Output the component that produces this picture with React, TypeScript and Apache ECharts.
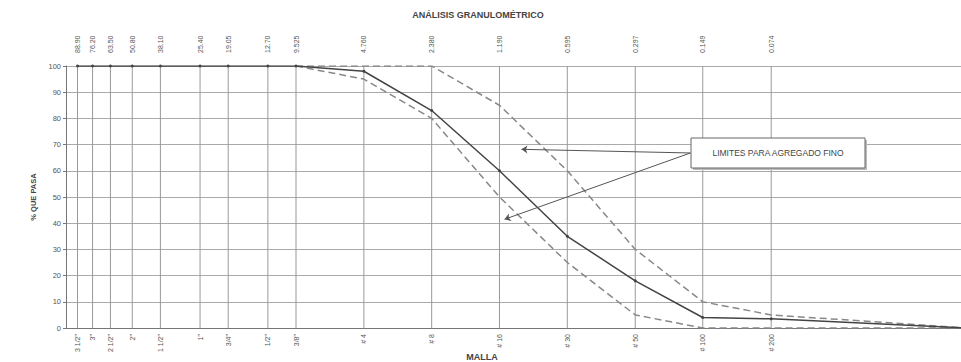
import React, { useEffect, useRef } from "react";
import * as echarts from "echarts";

// Sieve (malla) designations and openings in mm
const sieveNames = ['3 1/2"', '3"', '2 1/2"', '2"', '1 1/2"', '1"', '3/4"', '1/2"', '3/8"', '# 4', '# 8', '# 16', '# 30', '# 50', '# 100', '# 200'];
const openingLabels = ["88.90", "76.20", "63.50", "50.80", "38.10", "25.40", "19.05", "12.70", "9.525", "4.760", "2.380", "1.190", "0.595", "0.297", "0.149", "0.074"];
const openings = [88.9, 76.2, 63.5, 50.8, 38.1, 25.4, 19.05, 12.7, 9.525, 4.76, 2.38, 1.19, 0.595, 0.297, 0.149, 0.074];
const panOpening = 0.01;

// % que pasa (sample)
const passing = [100, 100, 100, 100, 100, 100, 100, 100, 100, 98, 83, 60, 35, 18, 4, 3.5, 0];
// Limits for fine aggregate (from 3/8" on)
const limitOpenings = [9.525, 4.76, 2.38, 1.19, 0.595, 0.297, 0.149, 0.074, 0.01];
const upperLimit = [100, 100, 100, 85, 60, 30, 10, 5, 0];
const lowerLimit = [100, 95, 80, 50, 25, 5, 0, 0, 0];

// annotation arrows [from (mm, %), to (mm, %)]
const annotationArrows = [
  [[0.169, 66.8], [0.951, 68.2]],
  [[0.169, 66.8], [1.13, 41.5]],
];

const FONT = "Liberation Sans, Arial, sans-serif";

export default function App() {
  const ref = useRef<HTMLDivElement>(null);
  useEffect(() => {
    if (!ref.current) return;
    const chart = echarts.init(ref.current, null, { renderer: "svg" });
    const samplePts = passing.map((v, i) => [i < openings.length ? openings[i] : panOpening, v]);
    const upperPts = limitOpenings.map((o, i) => [o, upperLimit[i]]);
    const lowerPts = limitOpenings.map((o, i) => [o, lowerLimit[i]]);
    const option: any = {
      animation: false,
      backgroundColor: "#fff",
      grid: { left: 66, top: 66, right: 13, bottom: 34, containLabel: false },
      xAxis: {
        type: "log",
        logBase: 10,
        min: 0.01,
        max: 100,
        inverse: true,
        axisLabel: { show: false },
        axisTick: { show: false },
        splitLine: { show: false },
        axisLine: { show: true, lineStyle: { color: "#777", width: 1 } },
      },
      yAxis: {
        type: "value",
        min: 0,
        max: 100,
        interval: 10,
        name: "% QUE PASA",
        nameLocation: "middle",
        nameGap: 29,
        nameTextStyle: { fontSize: 7.5, fontWeight: "bold", color: "#444", fontFamily: FONT },
        axisLine: { show: true, lineStyle: { color: "#777" } },
        axisTick: { show: true, length: 3, lineStyle: { color: "#777" } },
        axisLabel: { fontSize: 7.5, color: "#555", margin: 5, fontFamily: FONT },
        splitLine: { show: true, lineStyle: { color: "#aaa", width: 1 } },
      },
      series: [
        {
          type: "custom",
          z: 1,
          silent: true,
          clip: false,
          data: openings.map((o, i) => [o, i]),
          renderItem: (params: any, api: any) => {
            const x = api.value(0);
            const idx = api.value(1);
            const top = api.coord([x, 100]);
            const bot = api.coord([x, 0]);
            return {
              type: "group",
              children: [
                {
                  type: "line",
                  shape: { x1: top[0], y1: top[1], x2: bot[0], y2: bot[1] },
                  style: { stroke: "#999", lineWidth: 1 },
                },
                {
                  type: "text",
                  x: top[0],
                  y: top[1] - 13,
                  rotation: Math.PI / 2,
                  style: {
                    text: openingLabels[idx],
                    align: "left",
                    verticalAlign: "middle",
                    fontSize: 7,
                    fontFamily: FONT,
                    fill: "#555",
                  },
                },
                {
                  type: "text",
                  x: bot[0],
                  y: bot[1] + 6,
                  rotation: Math.PI / 2,
                  style: {
                    text: sieveNames[idx],
                    align: "right",
                    verticalAlign: "middle",
                    fontSize: 7,
                    fontFamily: FONT,
                    fill: "#555",
                  },
                },
              ],
            };
          },
        },
        {
          name: "Límite superior",
          type: "line",
          z: 3,
          data: upperPts,
          symbol: "none",
          lineStyle: { color: "#888", width: 1.5, type: [7, 4] },
          markLine: {
            silent: true,
            symbol: ["none", "arrow"],
            symbolSize: 6,
            label: { show: false },
            lineStyle: { color: "#555", width: 1, type: "solid" },
            data: annotationArrows.map((a) => [{ coord: a[0] }, { coord: a[1] }]),
          },
        },
        {
          name: "Límite inferior",
          type: "line",
          z: 3,
          data: lowerPts,
          symbol: "none",
          lineStyle: { color: "#888", width: 1.5, type: [7, 4] },
        },
        {
          name: "Muestra",
          type: "line",
          z: 4,
          data: samplePts,
          symbol: "circle",
          symbolSize: 3,
          itemStyle: { color: "#444" },
          lineStyle: { color: "#444", width: 1.5 },
        },
      ],
      graphic: [
        {
          type: "text",
          x: 478,
          y: 15,
          z: 100,
          style: {
            text: "ANÁLISIS GRANULOMÉTRICO",
            align: "center",
            verticalAlign: "middle",
            fontSize: 9,
            fontWeight: "bold",
            fontFamily: FONT,
            fill: "#444",
          },
        },
        {
          type: "text",
          x: 482,
          y: 357,
          z: 100,
          style: {
            text: "MALLA",
            align: "center",
            verticalAlign: "middle",
            fontSize: 9,
            fontWeight: "bold",
            fontFamily: FONT,
            fill: "#444",
          },
        },
        {
          type: "rect",
          x: 693,
          y: 140,
          z: 99,
          shape: { width: 174, height: 30 },
          style: { fill: "#bbb" },
        },
        {
          type: "rect",
          x: 691,
          y: 138,
          z: 100,
          shape: { width: 174, height: 30 },
          style: { fill: "#fff", stroke: "#666", lineWidth: 1 },
        },
        {
          type: "text",
          x: 778,
          y: 153,
          z: 101,
          style: {
            text: "LIMITES PARA AGREGADO FINO",
            align: "center",
            verticalAlign: "middle",
            fontSize: 8.5,
            fontFamily: FONT,
            fill: "#444",
          },
        },
      ],
    };
    chart.setOption(option);
    return () => chart.dispose();
  }, []);
  return (
    <div
      style={{ position: "fixed", left: 0, top: 0, width: 961, height: 362, overflow: "hidden", background: "#fff" }}
    >
      <div ref={ref} style={{ width: 980, height: 362 }} />
    </div>
  );
}
